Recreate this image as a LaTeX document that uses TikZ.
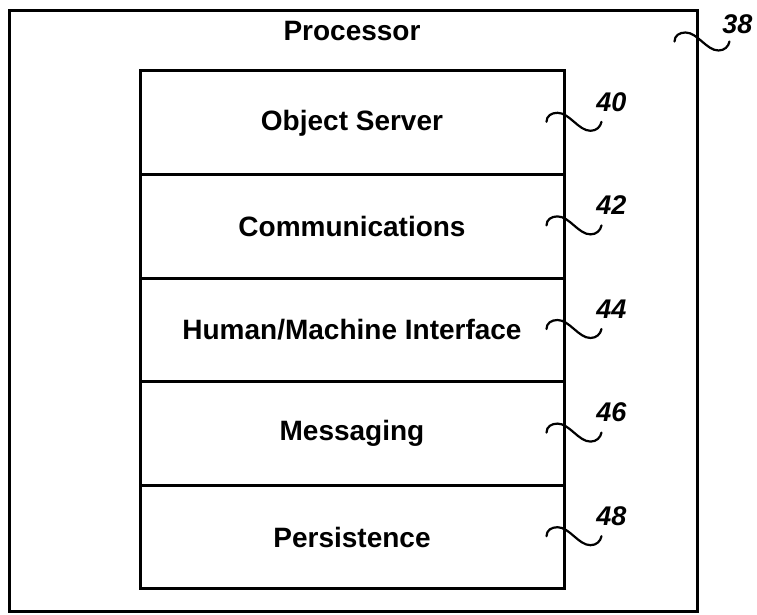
\documentclass[tikz,border=0pt]{standalone}
\usepackage{fontspec}
\setmainfont{Liberation Sans}
\usetikzlibrary{calc}
\tikzset{
  box/.style={draw, line width=1.5pt, minimum width=212pt, minimum height=51.8pt, inner sep=0pt,
    font=\fontsize{14}{16}\selectfont\bfseries},
  outerbox/.style={draw, line width=1.5pt, minimum width=344pt, minimum height=300.5pt, inner sep=0pt},
  ttl/.style={font=\fontsize{14}{16}\selectfont\bfseries, inner sep=0pt},
  ref/.style={font=\fontsize{13.5}{16}\selectfont\bfseries\itshape, inner sep=0pt},
  lead/.style={line width=1.1pt, line cap=round}
}
\newcommand\leader[1]{%
  \draw[lead] ($(#1)+(-19,-1)$) .. controls ($(#1)+(-19,-7)$) and ($(#1)+(-14,-10)$) .. ($(#1)+(-8,-10)$)
    .. controls ($(#1)+(4,-10)$) and ($(#1)+(13,8)$) .. ($(#1)+(25,8)$)
    .. controls ($(#1)+(31,8)$) and ($(#1)+(35,4)$) .. ($(#1)+(36,-1)$);}
\begin{document}
\begin{tikzpicture}[x=0.5pt,y=-0.5pt]
\useasboundingbox (0,0) rectangle (757,615);
\node[outerbox] (outer) at (353,311.5) {};
\node[ttl] (title) at (352,31) {Processor};
\node[box] (r1) at (352,122.8) {Object Server};
\node[box] (r2) at (352,226.4) {Communications};
\node[box] (r3) at (352,330.0) {Human/Machine Interface};
\node[box] (r4) at (352,433.6) {Messaging};
\node[box] (r5) at (352,537.2) {Persistence};
\coordinate (k38) at ($(outer.north east)+(-5,33)$);
\leader{k38}
\node[ref] (l38) at ($(k38)+(44,-18)$) {38};
\foreach \r/\n in {r1/40,r2/42,r3/44,r4/46,r5/48}{
  \leader{\r.east}
  \node[ref] (l\n) at ($(\r.east)+(46,-21)$) {\n};
}
\end{tikzpicture}
\end{document}
